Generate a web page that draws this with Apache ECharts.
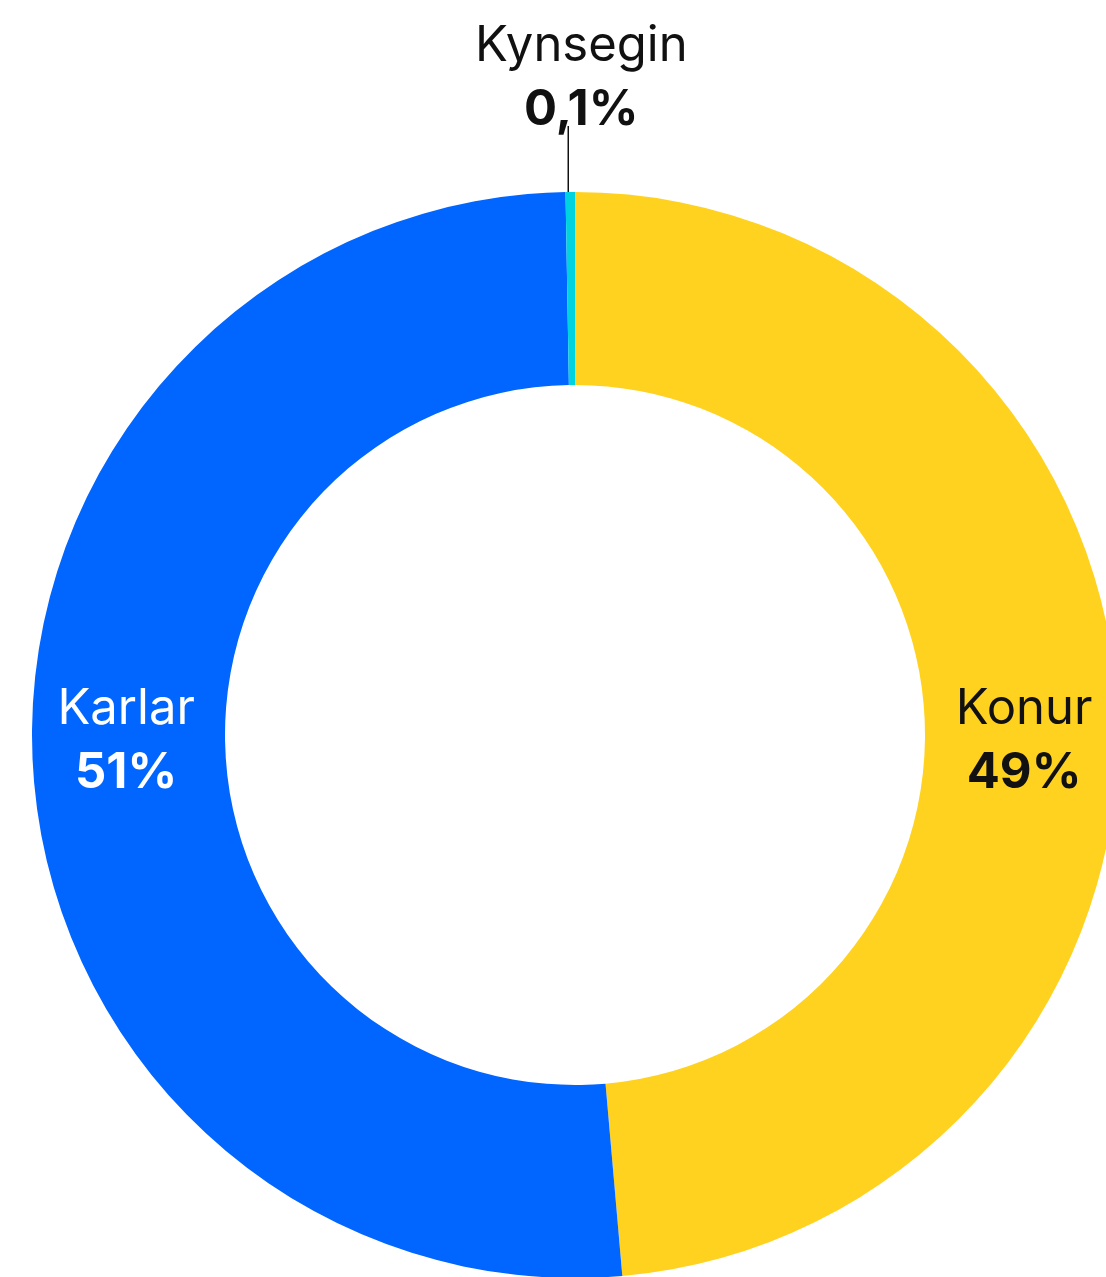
<!DOCTYPE html>
<html>
<head>
<meta charset="utf-8">
<script src="https://cdn.jsdelivr.net/npm/echarts@6/dist/echarts.min.js"></script>
<style>
  html, body { margin: 0; padding: 0; background: #fff; }
  #chart-container { width: 1106px; height: 1277px; }
</style>
</head>
<body>
<div id="chart-container"></div>
<script>
// data
var categories = ["Konur", "Karlar", "Kynsegin"];
var values = [48.6, 51.1, 0.1];
var percentLabels = ["49%", "51%", "0,1%"];
var colors = ["#ffd21f", "#0066ff", "#00d3e0"];
var labelColors = ["#111111", "#ffffff", "#111111"];

var dom = document.getElementById("chart-container");
var myChart = echarts.init(dom, null, { renderer: "canvas" });

var FONT = "Inter, 'Noto Sans', sans-serif";

function richFor(color) {
  return {
    name: { fontFamily: FONT, fontSize: 49, color: color, lineHeight: 64 },
    pct: { fontFamily: FONT, fontSize: 49, fontWeight: "bold", color: color, lineHeight: 64 }
  };
}

var pieData = categories.map(function (name, i) {
  var item = {
    name: name,
    value: values[i],
    itemStyle: { color: colors[i] },
    label: { rich: richFor(labelColors[i]) }
  };
  if (i === 2) {
    item.label.position = "outside";
    item.labelLine = {
      show: true,
      length: 66,
      length2: 0,
      lineStyle: { color: "#111111", width: 1.5 }
    };
  }
  return item;
});

var option = {
  animation: false,
  series: [
    {
      type: "pie",
      center: [575, 735],
      radius: [350, 543],
      startAngle: 90,
      clockwise: true,
      minAngle: 1,
      avoidLabelOverlap: false,
      label: {
        show: true,
        position: "inside",
        align: "center",
        formatter: function (p) {
          return "{name|" + p.name + "}\n{pct|" + percentLabels[p.dataIndex] + "}";
        }
      },
      labelLine: { show: false },
      emphasis: { disabled: true },
      data: pieData
    }
  ]
};

option.series[0].labelLayout = function (params) {
  if (params.dataIndex === 2) {
    var p = params.labelLinePoints;
    var x0 = p[0][0] - 2;
    var y0 = p[0][1];
    var top = y0 - 66;
    return {
      x: x0 + 13,
      y: top + 16,
      align: "center",
      verticalAlign: "bottom",
      labelLinePoints: [[x0, y0], [x0, top]]
    };
  }
  return { y: 741, verticalAlign: "middle" };
};

myChart.setOption(option);
</script>
</body>
</html>
